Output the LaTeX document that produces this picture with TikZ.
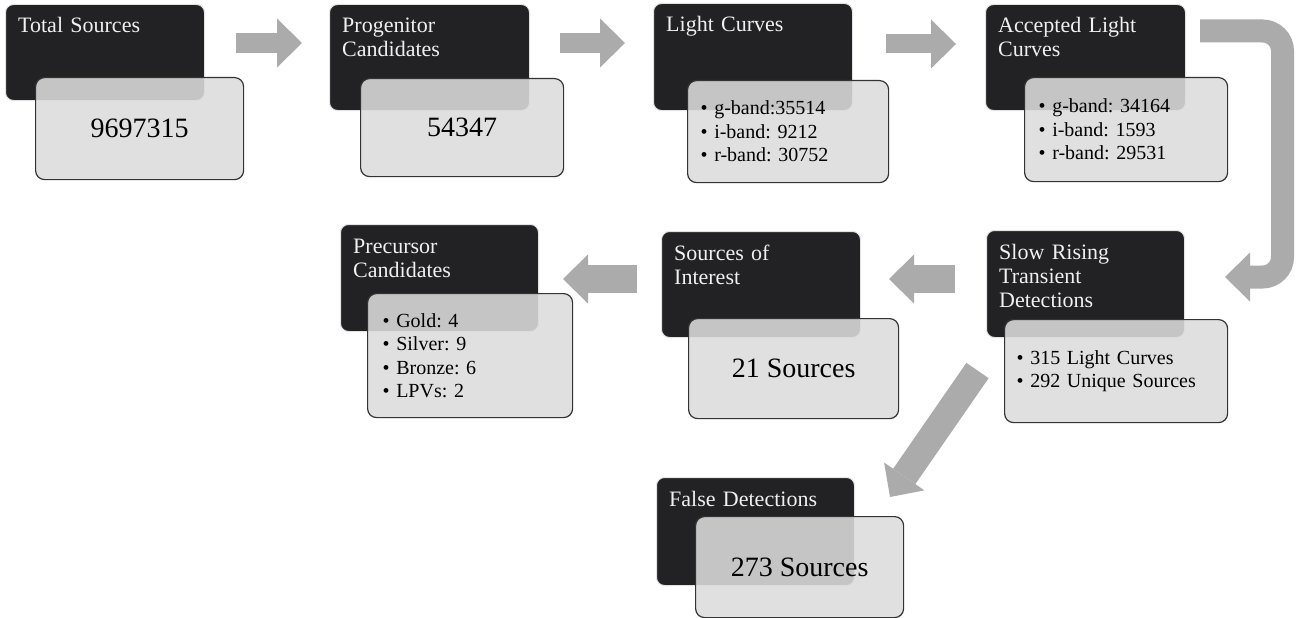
\documentclass[tikz,border=0pt]{standalone}
\usepackage{fontspec}
\setmainfont{Liberation Serif}
\usetikzlibrary{arrows.meta}
\frenchspacing
\definecolor{boxdark}{HTML}{222224}
\definecolor{boxlight}{HTML}{DCDCDC}
\definecolor{flowgray}{HTML}{ABABAB}
\tikzset{
  darkbox/.style={draw=gray!22, line width=1pt, fill=boxdark, rounded corners=8pt, anchor=north west, inner sep=0pt},
  lightbox/.style={draw=black!80, line width=1.2pt, fill=boxlight, fill opacity=0.88, text opacity=1, rounded corners=9pt, anchor=north west, inner sep=0pt, font=\fontsize{28}{30}\selectfont},
  listbox/.style={lightbox, font=\fontsize{20}{23.5}\selectfont, align=left},
  boxtitle/.style={text=white!94!black, anchor=base west, inner sep=0pt, text width=180pt, align=left, font=\fontsize{22}{24}\selectfont},
  flow/.style={draw=flowgray, line width=#1, -{Triangle[width=49pt,length=25pt,line width=0pt]}},
}
\begin{document}
\begin{tikzpicture}[x=1pt, y=-1pt]
  \useasboundingbox (0,0) rectangle (1304,618);
  % upper row
  \node[darkbox, minimum width=199pt, minimum height=96pt]  (ts) at (5,4) {};
  \node[darkbox, minimum width=200pt, minimum height=106pt] (pc) at (329,4) {};
  \node[darkbox, minimum width=199pt, minimum height=107pt] (lc) at (653,3) {};
  \node[darkbox, minimum width=200pt, minimum height=106pt] (al) at (985,4) {};
  % lower rows
  \node[darkbox, minimum width=198pt, minimum height=107pt] (sr) at (986,230) {};
  \node[darkbox, minimum width=199pt, minimum height=106pt] (si) at (661,231) {};
  \node[darkbox, minimum width=198pt, minimum height=107pt] (pr) at (340,224) {};
  \node[darkbox, minimum width=198pt, minimum height=108pt] (fd) at (656,477) {};
  \node[boxtitle] (tsT) at ([shift={(13,29)}]ts.north west) {Total Sources};
  \node[boxtitle] (pcT) at ([shift={(13,29)}]pc.north west) {Progenitor\\Candidates};
  \node[boxtitle] (lcT) at ([shift={(13,29)}]lc.north west) {Light Curves};
  \node[boxtitle] (alT) at ([shift={(13,29)}]al.north west) {Accepted Light\\Curves};
  \node[boxtitle] (srT) at ([shift={(13,29)}]sr.north west) {Slow Rising\\Transient\\Detections};
  \node[boxtitle] (siT) at ([shift={(13,29)}]si.north west) {Sources of\\Interest};
  \node[boxtitle] (prT) at ([shift={(13,29)}]pr.north west) {Precursor\\Candidates};
  \node[boxtitle] (fdT) at ([shift={(13,29)}]fd.north west) {False Detections};
  \node[lightbox, minimum width=208pt, minimum height=102pt] (tsV) at (35,77) {9697315};
  \node[lightbox, minimum width=203pt, minimum height=98pt]  (pcV) at (360,78) {54347};
  \node[listbox, minimum width=201pt, minimum height=102pt, text width=175pt] (lcV) at (687,80)
    {\textbullet\ g-band:35514\\\textbullet\ i-band: 9212\\\textbullet\ r-band: 30752};
  \node[listbox, minimum width=203pt, minimum height=104pt, text width=175pt] (alV) at (1024,77)
    {\textbullet\ g-band: 34164\\\textbullet\ i-band: 1593\\\textbullet\ r-band: 29531};
  \node[listbox, minimum width=223pt, minimum height=103pt, text width=199pt] (srV) at (1004,319)
    {\textbullet\ 315 Light Curves\\\textbullet\ 292 Unique Sources};
  \node[lightbox, minimum width=210pt, minimum height=100pt] (siV) at (688,318) {21 Sources};
  \node[listbox, minimum width=205pt, minimum height=124pt, text width=175pt] (prV) at (367,293)
    {\textbullet\ Gold: 4\\\textbullet\ Silver: 9\\\textbullet\ Bronze: 6\\\textbullet\ LPVs: 2};
  \node[lightbox, minimum width=208pt, minimum height=101pt] (fdV) at (695,516) {273 Sources};
  % block arrows
  \coordinate (f1a) at (236,43);    \coordinate (f1b) at (302,43);
  \coordinate (f2a) at (560,43);    \coordinate (f2b) at (625,43);
  \coordinate (f3a) at (886,44);    \coordinate (f3b) at (956,44);
  \coordinate (f4a) at (1200,31);   \coordinate (f4b) at (1225,277);
  \coordinate (f5a) at (955,279);   \coordinate (f5b) at (889,279);
  \coordinate (f6a) at (637,279);   \coordinate (f6b) at (563,279);
  \coordinate (f7a) at (977.5,370.5); \coordinate (f7b) at (890,497);
  \draw[flow=20pt] (f1a) -- (f1b);
  \draw[flow=20pt] (f2a) -- (f2b);
  \draw[flow=19pt] (f3a) -- (f3b);
  \draw[flow=23pt, rounded corners=20pt] (f4a) -- (1282.5,31) -- (1282.5,277) -- (f4b);
  \draw[flow=28pt] (f5a) -- (f5b);
  \draw[flow=28pt] (f6a) -- (f6b);
  \draw[flow=27pt] (f7a) -- (f7b);
\end{tikzpicture}
\end{document}
